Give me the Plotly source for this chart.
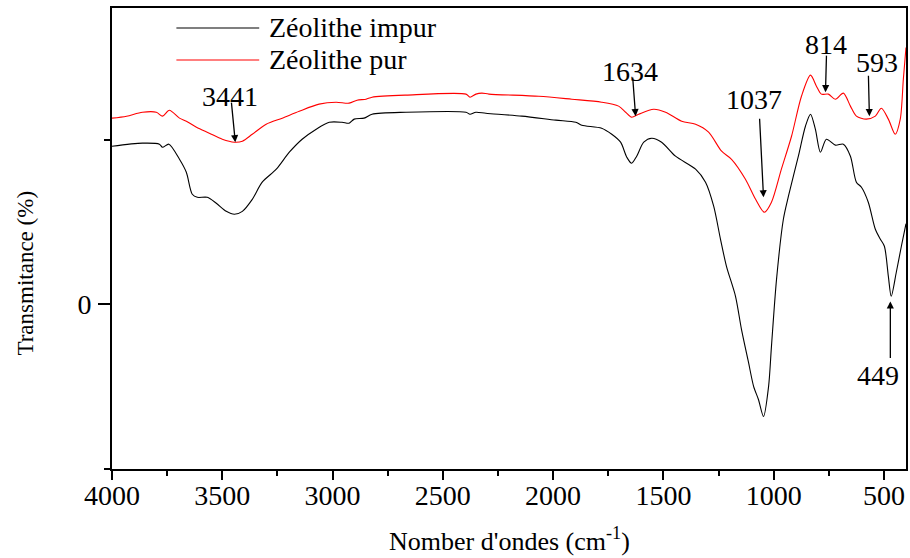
import plotly.graph_objects as go

# ---------------- data ----------------
wn_impur = [4000, 3862, 3785, 3771, 3742, 3694, 3663, 3636, 3613, 3568, 3527, 3482, 3445,
            3409, 3364, 3319, 3255, 3196, 3138, 3074, 3015, 2957, 2925, 2902, 2857, 2821,
            2667, 2395, 2377, 2350, 2305, 2142, 1988, 1897, 1870, 1780, 1734, 1694, 1666,
            1644, 1621, 1589, 1553, 1508, 1445, 1354, 1309, 1272, 1241, 1214, 1173, 1146,
            1114, 1091, 1069, 1046, 1023, 1010, 987, 956, 933, 888, 856, 833, 811, 788,
            761, 720, 684, 652, 625, 602, 571, 539, 516, 498, 480, 467, 444, 421, 400]
t_impur = [0.960, 0.979, 0.973, 0.954, 0.973, 0.881, 0.802, 0.669, 0.650, 0.650, 0.614, 0.565, 0.547,
           0.565, 0.638, 0.742, 0.821, 0.924, 1.003, 1.064, 1.106, 1.106, 1.100, 1.125, 1.131, 1.155,
           1.167, 1.167, 1.155, 1.167, 1.161, 1.143, 1.119, 1.106, 1.088, 1.070, 1.033, 0.985, 0.894,
           0.857, 0.900, 0.985, 1.009, 0.985, 0.900, 0.821, 0.742, 0.596, 0.395, 0.231, 0.049, -0.152,
           -0.353, -0.498, -0.578, -0.681, -0.498, -0.255, 0.152, 0.517, 0.657, 0.900, 1.082, 1.155, 1.064, 0.924,
           1.003, 0.967, 0.973, 0.900, 0.742, 0.711, 0.620, 0.456, 0.395, 0.353, 0.170, 0.049, 0.195, 0.353, 0.490]

wn_pur = [4000, 3934, 3862, 3799, 3771, 3740, 3694, 3663, 3617, 3559, 3500, 3445, 3409, 3364,
          3301, 3228, 3151, 3061, 2984, 2925, 2889, 2848, 2821, 2667, 2395, 2377, 2350, 2323,
          2291, 2065, 1915, 1780, 1703, 1671, 1644, 1612, 1544, 1490, 1417, 1354, 1295, 1236,
          1191, 1128, 1082, 1042, 1010, 965, 919, 874, 833, 806, 784, 752, 720, 684, 652, 625,
          580, 539, 512, 480, 449, 426, 412, 400]
t_pur = [1.131, 1.143, 1.167, 1.167, 1.143, 1.179, 1.131, 1.112, 1.076, 1.040, 1.003, 0.985, 0.991, 1.033,
         1.094, 1.131, 1.173, 1.216, 1.228, 1.222, 1.240, 1.246, 1.258, 1.271, 1.277, 1.258, 1.277, 1.283,
         1.277, 1.264, 1.246, 1.228, 1.204, 1.167, 1.137, 1.155, 1.185, 1.167, 1.112, 1.094, 1.046, 0.930,
         0.881, 0.760, 0.638, 0.559, 0.620, 0.821, 1.021, 1.264, 1.392, 1.325, 1.277, 1.277, 1.246, 1.283, 1.204, 1.143,
         1.125, 1.143, 1.191, 1.125, 1.033, 1.125, 1.368, 1.560]

series_names = ["Zéolithe impur", "Zéolithe pur"]
series_colors = ["#000000", "#ff0000"]

# peak annotations: label, arrow head (wavenumber, value), arrow tail offset (px), label position
peak_labels = ["3441", "1634", "1037", "814", "593", "449"]
peak_head_wn = [3441, 1626, 1046, 765, 566, 471]
peak_head_t = [0.985, 1.143, 0.650, 1.289, 1.143, 0.018]
peak_tail_dx = [-4, -3, -4, 1, -1, 0]
peak_tail_dy = [-41, -40, -80, -38, -42, 58]
peak_text_wn = [3464, 1653, 1091, 761, 530, 525]
peak_text_t = [1.264, 1.416, 1.246, 1.581, 1.471, -0.432]

x_range = [4000, 400]
y_range = [-1, 1.80]

FONT = "Liberation Serif, Times New Roman, serif"

fig = go.Figure()
for wn, t, name, col in [(wn_impur, t_impur, series_names[0], series_colors[0]),
                         (wn_pur, t_pur, series_names[1], series_colors[1])]:
    fig.add_trace(go.Scatter(x=wn, y=t, mode="lines", name=name,
                             line=dict(color=col, width=1.1, shape="spline", smoothing=0.8),
                             showlegend=False))

# manual legend (long line samples like the original)
leg_y = [0.9566, 0.8872]
for i in range(2):
    fig.add_shape(type="line", xref="paper", yref="paper", x0=0.0811, x1=0.1854,
                  y0=leg_y[i], y1=leg_y[i], line=dict(color=series_colors[i], width=1.2))
    fig.add_annotation(xref="paper", yref="paper", x=0.1957, y=leg_y[i] + 0.002,
                       xanchor="left", yanchor="middle", text=series_names[i],
                       showarrow=False, font=dict(family=FONT, size=28, color="black"))

for i in range(len(peak_labels)):
    fig.add_annotation(x=peak_head_wn[i], y=peak_head_t[i], ax=peak_tail_dx[i], ay=peak_tail_dy[i],
                       text="", showarrow=True, arrowhead=2, arrowsize=1.1, arrowwidth=1.3,
                       arrowcolor="black", standoff=0, startstandoff=0)
    fig.add_annotation(x=peak_text_wn[i], y=peak_text_t[i], text=peak_labels[i], showarrow=False,
                       xanchor="center", yanchor="middle",
                       font=dict(family=FONT, size=28, color="black"))

# axis titles
fig.add_annotation(xref="paper", yref="paper", x=0.5, y=-0.153, xanchor="center", yanchor="middle",
                   text="Nomber d'ondes (cm<sup>-1</sup>)", showarrow=False,
                   font=dict(family=FONT, size=26, color="black"))
fig.add_annotation(xref="paper", yref="paper", x=-0.109, y=0.425, xanchor="center", yanchor="middle",
                   text="Transmitance (%)", textangle=-90, showarrow=False,
                   font=dict(family=FONT, size=23, color="black"))

fig.update_xaxes(range=x_range, showline=True, linecolor="black", linewidth=2, mirror=True,
                 showgrid=False, zeroline=False, ticks="outside", ticklen=9, tickwidth=2,
                 tickcolor="black", tickmode="linear", tick0=500, dtick=500,
                 ticklabelstandoff=-9,
                 minor=dict(ticks="outside", ticklen=5, tickwidth=1.5, tickcolor="black", dtick=250, tick0=250),
                 tickfont=dict(family=FONT, size=28, color="black"))
fig.update_yaxes(range=y_range, showline=True, linecolor="black", linewidth=2, mirror=True,
                 showgrid=False, zeroline=False, ticks="outside", ticklen=12, tickwidth=2,
                 tickcolor="black", tickmode="array", tickvals=[0], ticktext=["0"],
                 ticklabelstandoff=1,
                 minor=dict(ticks="outside", ticklen=6, tickwidth=2, tickcolor="black", tickmode="array", tickvals=[-1, 1]),
                 tickfont=dict(family=FONT, size=28, color="black"))

fig.update_layout(width=910, height=558, margin=dict(l=112, r=2, t=8, b=89),
                  plot_bgcolor="white", paper_bgcolor="white", showlegend=False)

fig.write_html("out.html", config={"displayModeBar": False},
               post_script="document.body.style.margin='0px';document.body.style.overflow='hidden';")
